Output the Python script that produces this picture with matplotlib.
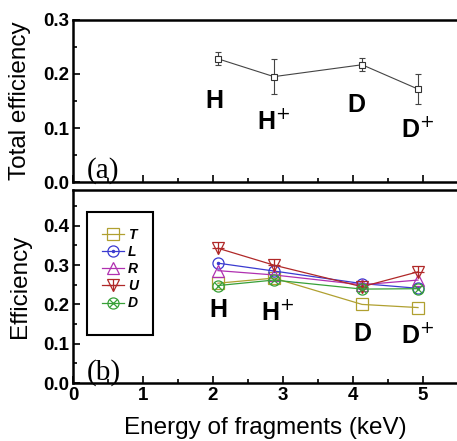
import numpy as np
import matplotlib
matplotlib.use('Agg')
import matplotlib.pyplot as plt
from matplotlib.ticker import MultipleLocator
from matplotlib.legend_handler import HandlerTuple
from matplotlib.patches import Rectangle

plt.rcParams['font.family'] = 'Liberation Sans'

energy = [2.07, 2.87, 4.13, 4.93]
fragments = ['H', 'H$^{+}$', 'D', 'D$^{+}$']

total_eff = [0.228, 0.195, 0.217, 0.172]
total_err = [0.012, 0.032, 0.012, 0.028]

eff_T = [0.254, 0.267, 0.200, 0.192]
eff_L = [0.305, 0.285, 0.253, 0.241]
eff_R = [0.286, 0.275, 0.250, 0.262]
eff_U = [0.343, 0.300, 0.245, 0.283]
eff_D = [0.248, 0.262, 0.239, 0.240]

fig = plt.figure(figsize=(4.57, 4.41), dpi=100)
ax1 = fig.add_axes([0.160, 0.587, 0.842, 0.368])
ax2 = fig.add_axes([0.160, 0.1315, 0.842, 0.4375])

# panel (a)
ax1.errorbar(energy, total_eff, yerr=total_err, color='#444444', lw=0.8,
             marker='s', ms=5, mfc='white', mec='#333333', mew=0.8,
             capsize=2.5, elinewidth=0.8, capthick=0.8)
ax1.set_ylim(0, 0.3)
ax1.set_ylabel('Total efficiency', fontsize=17.5)
ax1.tick_params(labelbottom=False)
ax1.text(0.2, 0.008, '(a)', family='Liberation Serif', fontsize=21)
lab_a = [(2.02, 0.150), (2.87, 0.112), (4.05, 0.142), (4.93, 0.098)]
for (x, y), s in zip(lab_a, fragments):
    ax1.text(x, y, s, fontsize=18, fontweight='bold', ha='center', va='center')

# panel (b)
series = [('T', eff_T, '#b0a030', 's'), ('L', eff_L, '#3a3ad0', 'o'),
          ('R', eff_R, '#b030b0', '^'), ('U', eff_U, '#b02828', 'v'),
          ('D', eff_D, '#38a038', 'o')]
handles = []
for name, vals, col, mk in series:
    ln, = ax2.plot(energy, vals, color=col, lw=0.9, marker=mk, ms=8,
                   mfc='none', mec=col, mew=0.9)
    extra = None
    if name == 'L':
        extra, = ax2.plot(energy, vals, ls='none', marker='.', ms=3, color=col)
    elif name == 'U':
        extra, = ax2.plot(energy, vals, ls='none', marker='+', ms=8, mew=0.9, color=col)
    elif name == 'D':
        extra, = ax2.plot(energy, vals, ls='none', marker='x', ms=6, mew=0.9, color=col)
    handles.append((ln, extra) if extra is not None else ln)

leg = ax2.legend(handles, [s[0] for s in series], loc='upper left',
                 bbox_to_anchor=(0.045, 0.86), handlelength=1.6,
                 handler_map={tuple: HandlerTuple(ndivide=1)},
                 prop={'weight': 'bold', 'style': 'italic', 'size': 10},
                 frameon=False, borderpad=0.3,
                 labelspacing=0.22, handletextpad=0.3)
ax2.add_patch(Rectangle((0.036, 0.249), 0.172, 0.637, transform=ax2.transAxes,
                        fill=False, lw=1.5, ec='black', zorder=4))

ax2.set_ylim(0, 0.491)
ax2.set_ylabel('Efficiency', fontsize=17.5)
ax2.set_xlabel('Energy of fragments (keV)', fontsize=17.5, labelpad=9)
ax2.text(0.2, 0.008, '(b)', family='Liberation Serif', fontsize=21)
lab_b = [(2.07, 0.185), (2.92, 0.18), (4.13, 0.125), (4.93, 0.12)]
for (x, y), s in zip(lab_b, fragments):
    ax2.text(x, y, s, fontsize=18, fontweight='bold', ha='center', va='center')

for ax in (ax1, ax2):
    ax.set_xlim(0, 5.5)
    ax.xaxis.set_major_locator(MultipleLocator(1))
    ax.xaxis.set_minor_locator(MultipleLocator(0.5))
    ax.yaxis.set_major_locator(MultipleLocator(0.1))
    ax.yaxis.set_minor_locator(MultipleLocator(0.05))
    ax.tick_params(which='both', direction='in', top=False, right=False,
                   width=1.2, labelsize=13.5, pad=3)
    ax.tick_params(which='major', length=5)
    ax.tick_params(which='minor', length=3)
    ax.spines['right'].set_visible(False)
    for sp in ax.spines.values():
        sp.set_linewidth(1.8)
    for lbl in ax.get_xticklabels() + ax.get_yticklabels():
        lbl.set_fontweight('bold')
    ax.yaxis.set_major_formatter(plt.FuncFormatter(lambda v, p: f'{v:.1f}'))

ax1.yaxis.set_label_coords(-0.11, 0.5)
ax2.yaxis.set_label_coords(-0.11, 0.5)

fig.savefig('out.png', dpi=100)
